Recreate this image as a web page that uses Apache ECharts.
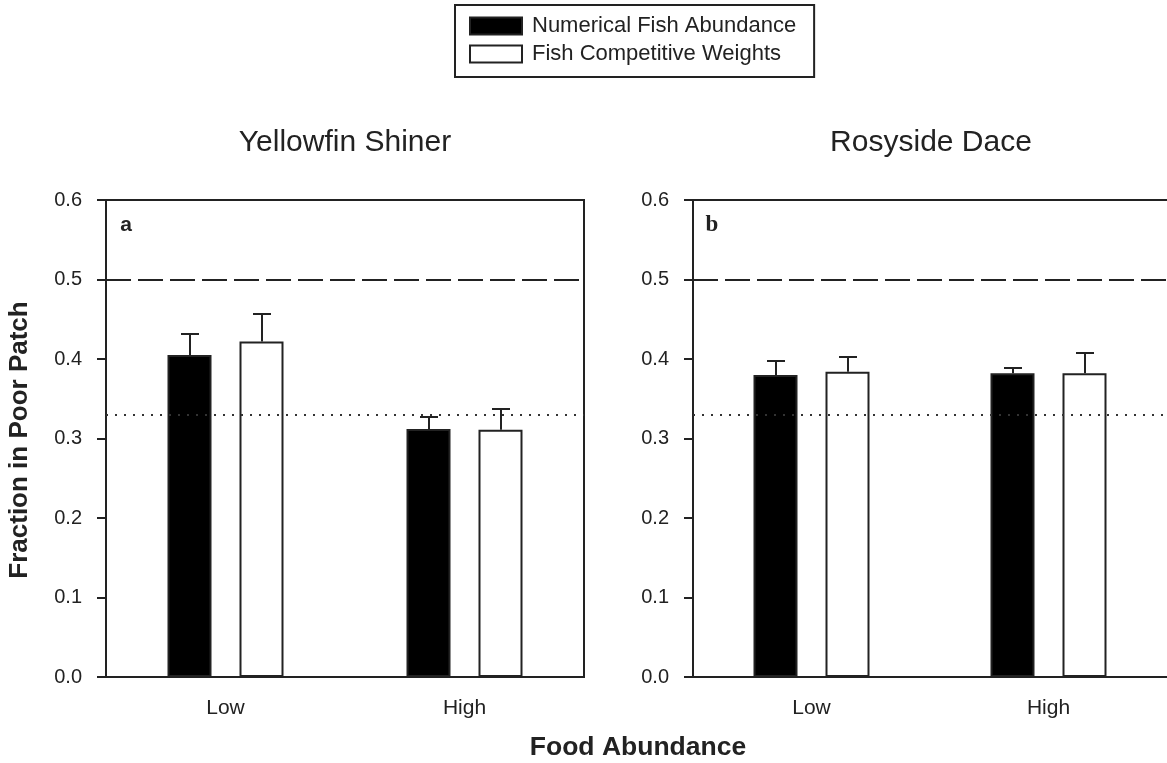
<!DOCTYPE html>
<html>
<head>
<meta charset="utf-8">
<script src="https://cdn.jsdelivr.net/npm/echarts@6/dist/echarts.min.js"></script>
<style>
html,body{margin:0;padding:0;background:#fff;}
#chart{width:1167px;height:763px;}
</style>
</head>
<body>
<div id="chart"></div>
<script>
// ---- data ----
const categories = ['Low', 'High'];
const seriesNames = ['Numerical Fish Abundance', 'Fish Competitive Weights'];
const panelTitles = ['Yellowfin Shiner', 'Rosyside Dace'];
const panelLetters = ['a', 'b'];
// panel a: Yellowfin Shiner
const abundanceA = [0.405, 0.312];
const abundanceAErr = [0.027, 0.015];
const weightsA = [0.422, 0.311];
const weightsAErr = [0.035, 0.026];
// panel b: Rosyside Dace
const abundanceB = [0.380, 0.382];
const abundanceBErr = [0.017, 0.007];
const weightsB = [0.384, 0.382];
const weightsBErr = [0.018, 0.025];
// reference lines
const refEqual = 0.5;
const refThird = 0.33;
const yTicks = { min: 0, max: 0.6, interval: 0.1 };
const yAxisTitle = 'Fraction in Poor Patch';
const xAxisTitle = 'Food Abundance';

// ---- style ----
const FONT = '"Liberation Sans", Arial, Helvetica, sans-serif';
const INK = '#222';
const BAR_W = 44;
const BAR_GAP_PX = 28;
const OFFSET = (BAR_W + BAR_GAP_PX) / 2;

const chart = echarts.init(document.getElementById('chart'), null, { renderer: 'canvas' });

const grids = [
  { left: 106, top: 200, width: 478, height: 477, show: true },
  { left: 693, top: 200, width: 478, height: 477, show: false }
];
const gridCenters = [106 + 478 / 2, 693 + 478 / 2];

function errSeries(gi, vals, errs, sign, name) {
  return {
    type: 'custom',
    name: name + ' err',
    xAxisIndex: gi, yAxisIndex: gi,
    z: 5,
    silent: true,
    data: vals.map((v, i) => [i, v, v + errs[i]]),
    renderItem: function (params, api) {
      const base = api.coord([api.value(0), api.value(1)]);
      const top = api.coord([api.value(0), api.value(2)]);
      const x = Math.round(base[0] + sign * OFFSET);
      const ty = Math.round(top[1]);
      const st = { stroke: INK, lineWidth: 2 };
      return {
        type: 'group',
        children: [
          { type: 'line', shape: { x1: x, y1: base[1], x2: x, y2: ty }, style: st },
          { type: 'line', shape: { x1: x - 9, y1: ty, x2: x + 9, y2: ty }, style: st }
        ]
      };
    }
  };
}

function barSeries(gi, name, vals, fill, withRefs) {
  const s = {
    type: 'bar',
    name: name,
    xAxisIndex: gi, yAxisIndex: gi,
    data: vals,
    barWidth: BAR_W,
    barGap: (BAR_GAP_PX / BAR_W * 100) + '%',
    itemStyle: { color: fill, borderColor: INK, borderWidth: 2 },
    silent: true
  };
  if (withRefs) {
    s.markLine = {
      silent: true,
      symbol: 'none',
      label: { show: false },
      data: [
        { yAxis: refEqual, lineStyle: { color: INK, width: 2, type: [25, 7] } },
        { yAxis: refThird, lineStyle: { color: '#333', width: 2, type: [2, 7] } }
      ]
    };
  }
  return s;
}

const xAxes = grids.map((g, gi) => ({
  type: 'category', gridIndex: gi, data: categories,
  axisLine: { lineStyle: { color: INK, width: 2 } },
  axisTick: { alignWithLabel: true, length: 7, lineStyle: { color: INK, width: 2 } },
  axisLabel: { fontSize: 21, color: INK, margin: 21, fontFamily: FONT },
  splitLine: { show: false }
}));
// top frame line for panel b (its right side is outside the picture)
xAxes.push({
  type: 'category', gridIndex: 1, position: 'top', data: categories,
  axisLine: { lineStyle: { color: INK, width: 2 } },
  axisTick: { show: false }, axisLabel: { show: false }, splitLine: { show: false }
});
const yAxes = grids.map((g, gi) => ({
  type: 'value', gridIndex: gi, min: yTicks.min, max: yTicks.max, interval: yTicks.interval,
  axisLine: { show: true, lineStyle: { color: INK, width: 2 } },
  axisTick: { show: true, length: 9, lineStyle: { color: INK, width: 2 } },
  axisLabel: { fontSize: 20, color: INK, margin: 24, fontFamily: FONT, formatter: v => v.toFixed(1) },
  splitLine: { show: false }
}));

const option = {
  animation: false,
  backgroundColor: '#fff',
  textStyle: { fontFamily: FONT },
  grid: grids.map(g => Object.assign({ borderColor: INK, borderWidth: 2, backgroundColor: 'transparent', containLabel: false }, g)),
  xAxis: xAxes,
  yAxis: yAxes,
  legend: {
    data: seriesNames,
    orient: 'vertical',
    left: 455, top: 5,
    itemWidth: 52, itemHeight: 17,
    itemGap: 6,
    borderColor: INK, borderWidth: 2,
    padding: [10, 18, 12, 14],
    icon: 'rect',
    textStyle: { fontSize: 22, color: INK, fontFamily: FONT, lineHeight: 22, padding: [0, 0, 0, 5] },
    selectedMode: false
  },
  series: [
    barSeries(0, seriesNames[0], abundanceA, '#000', true),
    barSeries(0, seriesNames[1], weightsA, '#fff', false),
    barSeries(1, seriesNames[0], abundanceB, '#000', true),
    barSeries(1, seriesNames[1], weightsB, '#fff', false),
    errSeries(0, abundanceA, abundanceAErr, -1, seriesNames[0]),
    errSeries(0, weightsA, weightsAErr, 1, seriesNames[1]),
    errSeries(1, abundanceB, abundanceBErr, -1, seriesNames[0]),
    errSeries(1, weightsB, weightsBErr, 1, seriesNames[1])
  ]
};

const txt = (x, y, text, size, weight, extra) => Object.assign({
  type: 'text', x: x, y: y, silent: true,
  style: { text: text, fontSize: size, fontWeight: weight, fontFamily: FONT, fill: INK, align: 'center', verticalAlign: 'middle' }
}, extra || {});

option.graphic = [
  txt(gridCenters[0], 143, panelTitles[0], 30, 'normal'),
  txt(gridCenters[1] - 1, 143, panelTitles[1], 30, 'normal'),
  txt(126, 225, panelLetters[0], 21, 'bold'),
  txt(712, 225, panelLetters[1], 23, 'bold'),
  txt(20, 440, yAxisTitle, 26, 'bold', { rotation: Math.PI / 2 }),
  txt(638, 748, xAxisTitle, 26.5, 'bold')
];
option.graphic[3].style.fontFamily = '"Liberation Serif", "Times New Roman", serif';

chart.setOption(option);
</script>
</body>
</html>
